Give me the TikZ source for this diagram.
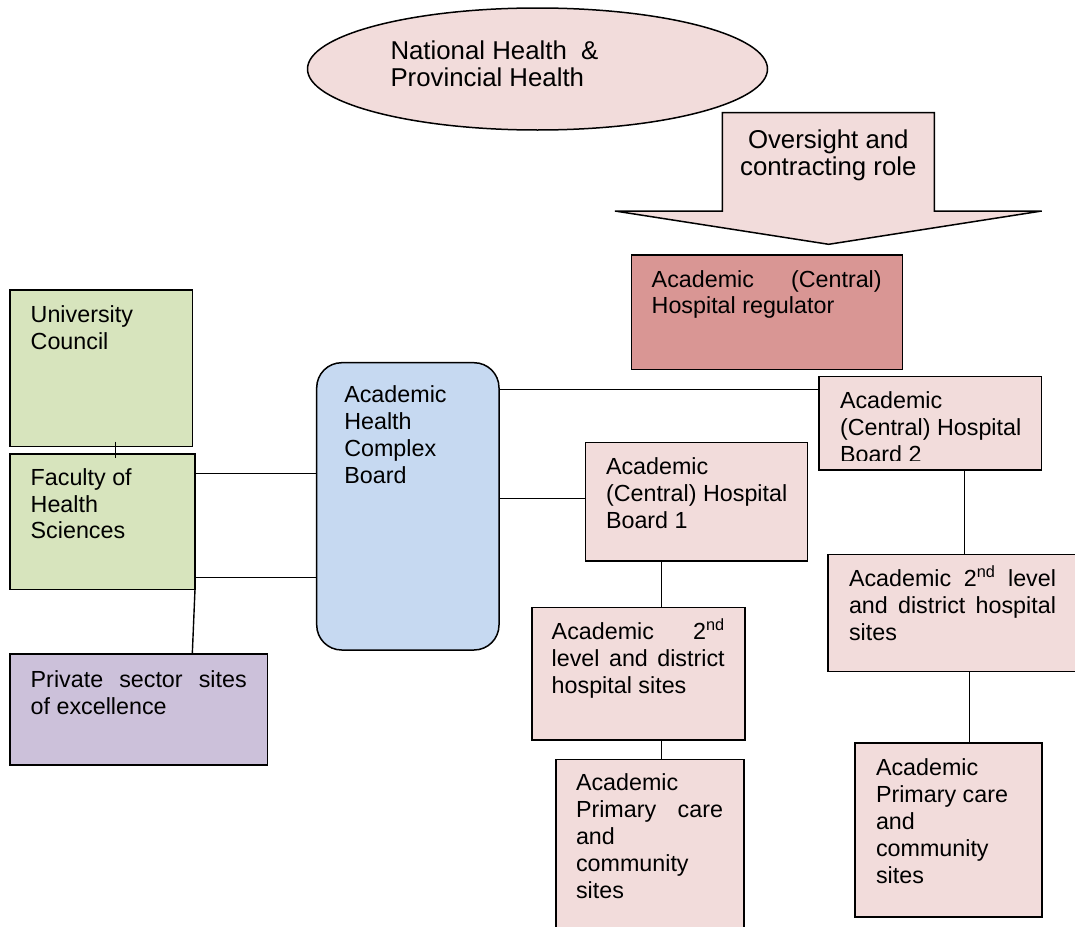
\documentclass[tikz,border=0pt]{standalone}
\usepackage{fontspec}
\setmainfont{Liberation Sans}
\usetikzlibrary{shapes.geometric}
\definecolor{pinkfill}{HTML}{F2DCDB}
\definecolor{regfill}{HTML}{D99694}
\definecolor{greenfill}{HTML}{D7E4BD}
\definecolor{bluefill}{HTML}{C6D9F1}
\definecolor{purplefill}{HTML}{CCC1DA}
\tikzset{
  box/.style={draw=black, line width=1.5pt, inner sep=0pt, outer sep=0pt},
  txt/.style={anchor=north west, inner sep=0pt, outer sep=0pt, align=left, font=\fontsize{23.3}{26.8}\selectfont},
  bigtxt/.style={inner sep=0pt, outer sep=0pt, font=\fontsize{25.8}{27.8}\selectfont},
  link/.style={draw=black, line width=1.4pt},
}
\newcommand\mkbox[7][]{\node[box, fill=#7, minimum width={#5-#3}, minimum height={#6-#4}, #1] (#2) at ({(#3+#5)/2},{(#4+#6)/2}) {};}
\newcommand\jl[2]{\makebox[#1pt][s]{#2}}
\begin{document}
\begin{tikzpicture}[x=1pt,y=-1pt]
\useasboundingbox (0,0) rectangle (1075,926);
\fill[white] (0,0) rectangle (1075,926);
% ellipse
\node[box, ellipse, fill=pinkfill, minimum width=460, minimum height=122] (nat) at (537.5,69) {};
\node[bigtxt, anchor=north west, align=left] (natt) at (390.5,40.5) {National Health\ \ \&\\Provincial Health};
% big arrow
\draw[box, fill=pinkfill, line join=miter] (722.3,211) -- (722.3,112.7) -- (934.3,112.7) -- (934.3,211) -- (1041.7,211) -- (828.7,244.3) -- (615,211) -- cycle;
\node[bigtxt, anchor=north, align=center] (ovt) at (828.3,129.5) {Oversight and\\contracting role};
% boxes
\mkbox{reg}{631.7}{255}{902.3}{369.3}{regfill}
\mkbox{b2}{819}{376.7}{1041.7}{470}{pinkfill}
\mkbox{uc}{10}{290}{192.7}{446.7}{greenfill}
\mkbox{fac}{10}{454}{195}{589.3}{greenfill}
\mkbox{priv}{10}{654}{267.7}{765}{purplefill}
\mkbox[rounded corners=25pt]{ahcb}{316.7}{362.7}{499}{650}{bluefill}
\mkbox{b1}{585.7}{442.3}{807.7}{561}{pinkfill}
\mkbox{l1}{532}{607.7}{745}{740}{pinkfill}
\mkbox{p1}{556}{759.5}{744}{935}{pinkfill}
\mkbox{l2}{828}{554.3}{1079}{671.7}{pinkfill}
\mkbox{p2}{855}{743}{1042}{917}{pinkfill}
% texts
\node[txt] (regt) at (651.7,270.3) {\jl{230}{Academic (Central)}\\Hospital regulator};
\begin{scope}
\clip (819,376.7) rectangle (1041.7,460.5);
\node[txt] (b2t) at (840,392) {Academic\\(Central) Hospital\\Board 2};
\end{scope}
\node[txt] (uct) at (30.7,306) {University\\Council};
\node[txt] (fact) at (30.7,468.5) {Faculty of\\Health\\Sciences};
\node[txt] (privt) at (30.7,671) {\jl{216}{Private sector sites}\\of excellence};
\node[txt] (ahcbt) at (344.3,386) {Academic\\Health\\Complex\\Board};
\node[txt] (b1t) at (606,458) {Academic\\(Central) Hospital\\Board 1};
\node[txt] (l1t) at (551.7,619) {\jl{173}{Academic 2\textsuperscript{nd}}\\\jl{173}{level and district}\\hospital sites};
\node[txt] (l2t) at (849,566) {\jl{207}{Academic 2\textsuperscript{nd} level}\\\jl{207}{and district hospital}\\sites};
\node[txt] (p1t) at (576,774) {Academic\\\jl{147}{Primary care}\\and\\community\\sites};
\node[txt] (p2t) at (876,759) {Academic\\Primary care\\and\\community\\sites};
% connector anchor points
\coordinate (cb2) at ([yshift=-12.6pt]b2.north west);
\coordinate (cb1) at ([yshift=-56.4pt]b1.north west);
\coordinate (cf1) at ([yshift=-19.3pt]fac.north east);
\coordinate (cf2) at ([yshift=11.6pt]fac.south east);
\coordinate (cpv) at ([xshift=182.3pt]priv.north west);
\coordinate (cuc) at ([xshift=105.7pt,yshift=5pt]uc.south west);
\coordinate (cfa) at ([xshift=105.7pt,yshift=-3.7pt]fac.north west);
\coordinate (cl1) at ([xshift=129.7pt]l1.north west);
\coordinate (cl2) at ([xshift=136.7pt]l2.north west);
\coordinate (cp2) at ([xshift=114.3pt]p2.north west);
% connectors
\draw[link] (ahcb.east |- cb2) -- (cb2);
\draw[link] (ahcb.east |- cb1) -- (cb1);
\draw[link] (cf1) -- (ahcb.west |- cf1);
\draw[link] (cf2) -- (ahcb.west |- cf2);
\draw[link] (fac.south east) -- (cpv);
\draw[link] (cuc) -- (cfa);
\draw[link] (b1.south -| cl1) -- (cl1);
\draw[link] (l1.south -| cl1) -- (p1.north -| cl1);
\draw[link] (b2.south -| cl2) -- (cl2);
\draw[link] (l2.south -| cp2) -- (cp2);
\end{tikzpicture}
\end{document}
